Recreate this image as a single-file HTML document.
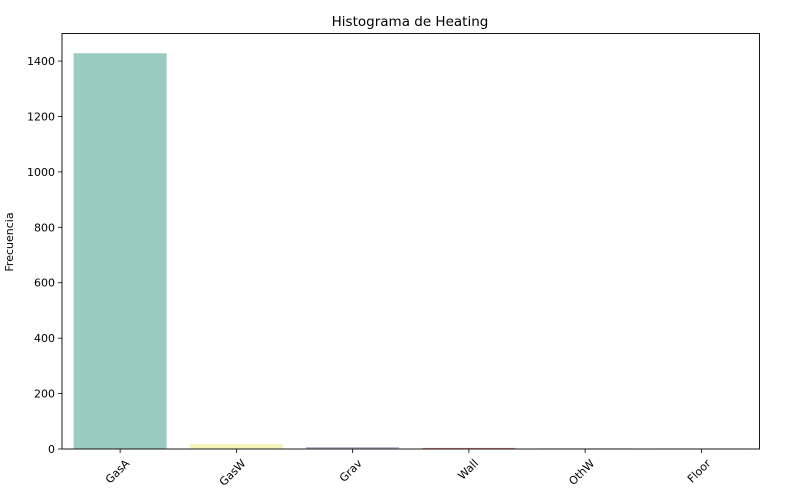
<!DOCTYPE html>
<html><head><meta charset="utf-8"><style>
body{margin:0;background:#fff;font-family:"Liberation Sans","DejaVu Sans",sans-serif;}
svg text{font-family:"DejaVu Sans","Liberation Sans",sans-serif;fill:#000;}
</style></head><body>
<svg id="chart" width="810" height="488" xmlns="http://www.w3.org/2000/svg">
<text x="410" y="26" font-size="13.5" text-anchor="middle">Histograma de Heating</text>
<text transform="translate(13,242) rotate(-90)" font-size="11" text-anchor="middle">Frecuencia</text>
<g id="bars"></g><g id="yticks"></g><g id="xticks"></g>
<rect x="62" y="33.5" width="697.5" height="415.5" fill="none" stroke="#000" stroke-width="0.9"/>
</svg>
<script>
const categories = ["GasA","GasW","Grav","Wall","OthW","Floor"];
const counts = [1428,18,7,4,2,1];
const colors = ["#98cbc1","#f4f4b8","#b7b5cf","#e58a7f","#8eb1c9","#eeb679"];
const yTicks = [0,200,400,600,800,1000,1200,1400];
const NS="http://www.w3.org/2000/svg";
const L=62,R=759.5,T=33.5,B=449;
const yMax=Math.max(...counts)*1.05;
const y=v=>B-(v/yMax)*(B-T);
const step=(R-L)/categories.length;
const xc=i=>L+step*(i+0.5);
function mk(t,a){const e=document.createElementNS(NS,t);for(const k in a)e.setAttribute(k,a[k]);return e;}
const bars=document.getElementById('bars'),yt=document.getElementById('yticks'),xt=document.getElementById('xticks');
counts.forEach((v,i)=>{
  const r=mk('rect',{x:xc(i)-step*0.4,y:y(v),width:step*0.8,height:B-y(v),fill:colors[i]});
  
  
  bars.appendChild(r);
  const tk=mk('line',{x1:xc(i),x2:xc(i),y1:B,y2:B+4,stroke:'#000','stroke-width':0.8});
  
  
  xt.appendChild(tk);
  const tx=mk('text',{'font-size':11,'text-anchor':'end',transform:`translate(${xc(i)+10},${B+15}) rotate(-45)`});
  tx.textContent=categories[i];
  
  
  xt.appendChild(tx);
});
yTicks.forEach(v=>{
  const tk=mk('line',{x1:L-4,x2:L,y1:y(v),y2:y(v),stroke:'#000','stroke-width':0.8});
  
  
  yt.appendChild(tk);
  const tx=mk('text',{x:L-7,y:y(v)+4,'font-size':11,'text-anchor':'end'});
  tx.textContent=v;
  
  
  yt.appendChild(tx);
});
</script>
</body></html>
